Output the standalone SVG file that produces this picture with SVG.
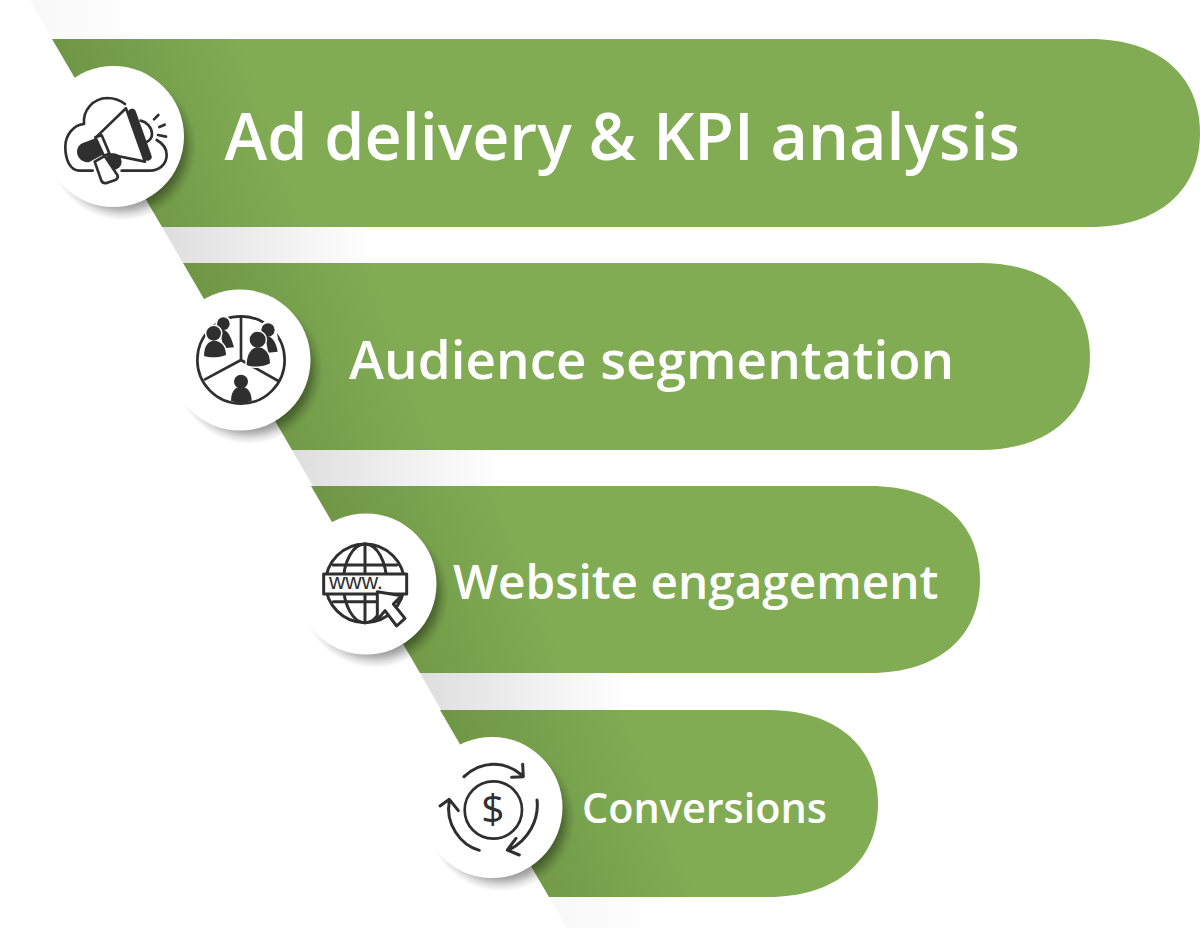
<svg xmlns="http://www.w3.org/2000/svg" width="1200" height="928" viewBox="0 0 1200 928">
<defs>
<linearGradient id="barFill" gradientUnits="userSpaceOnUse" x1="30" y1="150" x2="220" y2="80"><stop offset="0" stop-color="#6c9343"/><stop offset="1" stop-color="#81ac54"/></linearGradient>
<linearGradient id="bandFill" gradientUnits="userSpaceOnUse" x1="0" y1="0" x2="210" y2="0"><stop offset="0" stop-color="#dedede"/><stop offset="1" stop-color="#ffffff"/></linearGradient>
<linearGradient id="bandFaint" gradientUnits="userSpaceOnUse" x1="0" y1="0" x2="120" y2="0"><stop offset="0" stop-color="#f8f8f8"/><stop offset="1" stop-color="#ffffff"/></linearGradient>
<radialGradient id="shadeFill"><stop offset="0.72" stop-color="#000" stop-opacity="0.5"/><stop offset="0.84" stop-color="#000" stop-opacity="0.3"/><stop offset="0.92" stop-color="#000" stop-opacity="0.12"/><stop offset="1" stop-color="#000" stop-opacity="0"/></radialGradient>
<g id="frontL"><circle cx="131" cy="190" r="22"/><path d="M102,258C102,228 115,212 132,212C152,212 168,228 168,255C150,263 118,264 102,258Z"/></g>
<g id="frontR"><circle cx="263" cy="209" r="24"/><path d="M230,285C230,252 245,232 263,232C284,232 300,250 300,280C280,292 248,292 230,285Z"/></g>
</defs>
<style>
.bar{fill:url(#barFill)}
.band{fill:url(#bandFill)}
.shade{fill:url(#shadeFill)}
.disc{fill:#fff}
.label{font-family:"Open Sans","Noto Sans",sans-serif;font-weight:600;fill:#fff}
.ln{fill:none;stroke:#2f2f2f;stroke-linecap:round;stroke-linejoin:round}
.dk{fill:#2f2f2f}
.halo{fill:#fff;stroke:#fff;stroke-width:9}
.wh{fill:#fff;stroke:#2f2f2f;stroke-linejoin:round}
</style>
<g id="bands">
<path transform="translate(30,0)" fill="url(#bandFaint)" d="M0,0H120V39H22Z"/>
<path transform="translate(162,227)" class="band" d="M0,0H210V36H21Z"/>
<path transform="translate(292,450)" class="band" d="M0,0H210V36H21Z"/>
<path transform="translate(420,673)" class="band" d="M0,0H210V37H21Z"/>
<path transform="translate(549,897)" fill="url(#bandFaint)" d="M0,0H120V31H18Z"/>
</g>
<g id="node-ad-delivery">
<path transform="translate(52,39)" class="bar" d="M0,0H1038C1106,0 1148,36 1148,94C1148,152 1106,188 1038,188H110Z"/>
<circle class="shade" cx="122.500" cy="146.500" r="74"/>
<circle class="disc" cx="113.500" cy="136.500" r="70.500"/>
<g transform="translate(30,30) scale(0.33333)">
<path class="ln" stroke-width="8" d="M188,422H150C118,422 106,385 106,350C106,315 130,285 162,282C158,240 190,205 232,204C255,204 272,212 285,222M380,330C398,340 410,355 410,375C410,402 388,422 360,422H275"/>
<path class="ln" stroke-width="8" d="M332,272C350,276 366,292 366,312C366,322 360,330 352,335"/>
<path class="wh" stroke-width="8" d="M288,235L200,320L233,372L345,395Z"/>
<path class="ln" stroke-width="24" d="M306,248L353,380"/>
<path class="dk" d="M196,325L222,372L178,396C160,400 142,385 141,367C141,350 152,340 165,337Z"/>
<path class="wh" stroke-width="8" d="M196,322L215,316L238,370L222,378Z"/>
<circle class="dk" cx="250" cy="395" r="25"/>
<path class="wh" stroke-width="8" d="M194,395L224,378L262,435C266,442 262,446 258,449L232,458C224,461 218,460 214,452Z"/>
<path class="ln" stroke-width="8" d="M372,268L385,255M388,291L404,284M384,315L408,320"/>
</g>
<text class="label" x="224.500" y="160" font-size="64.600">Ad delivery &amp; KPI analysis</text>
</g>
<g id="node-audience">
<path transform="translate(183,263)" class="bar" d="M0,0H797C865,0 907,36 907,94C907,151 865,187 797,187H109Z"/>
<circle class="shade" cx="249" cy="370" r="74"/>
<circle class="disc" cx="240" cy="360" r="70.500"/>
<g transform="translate(170,270) scale(0.33333)">
<circle class="ln" stroke-width="8" cx="213" cy="270" r="131"/>
<path class="ln" stroke-width="8" d="M213,140V270M213,270L105,328M213,270L325,333"/>
<path class="halo" d="M140,165C140,135 182,135 182,165C182,180 196,215 192,232L140,235Z"/>
<path class="halo" d="M272,180C272,150 316,150 316,180C316,195 325,225 322,245L275,245Z"/>
<circle class="dk" cx="160" cy="161" r="19"/>
<path class="dk" d="M150,178C170,176 182,195 192,232L160,235Z"/>
<circle class="dk" cx="294" cy="180" r="20"/>
<path class="dk" d="M285,198C305,196 318,215 323,245L295,248Z"/>
<use href="#frontL" class="halo"/><use href="#frontL" class="dk"/>
<use href="#frontR" class="halo"/><use href="#frontR" class="dk"/>
<circle class="dk" cx="213" cy="335" r="21"/>
<path class="dk" d="M183,393C183,365 195,350 213,350C232,350 245,365 245,393C225,400 203,400 183,393Z"/>
</g>
<text class="label" x="349" y="379" font-size="53">Audience segmentation</text>
</g>
<g id="node-website">
<path transform="translate(311,486)" class="bar" d="M0,0H559C627,0 669,36 669,94C669,151 627,187 559,187H109Z"/>
<circle class="shade" cx="375" cy="594" r="74"/>
<circle class="disc" cx="366" cy="584" r="70.500"/>
<g transform="translate(290,450) scale(0.33333)">
<circle class="ln" stroke-width="9" cx="225" cy="400" r="118"/>
<ellipse class="ln" stroke-width="9" cx="225" cy="400" rx="65" ry="118"/>
<path class="ln" stroke-width="9" d="M225,282V518M130,345H320M130,455H320"/>
<rect class="wh" stroke-width="9" x="101" y="372" width="249" height="60"/>
<text x="117" y="416" font-family="Liberation Sans,Arial,sans-serif" font-size="68" fill="#2f2f2f">www.</text>
<path class="wh" stroke-width="9" d="M262,425L335,437L310,462L345,505L320,528L285,482L262,510Z"/>
</g>
<text class="label" x="453" y="599" font-size="47.700">Website engagement</text>
</g>
<g id="node-conversions">
<path transform="translate(440,710)" class="bar" d="M0,0H328C396,0 438,36 438,94C438,151 396,187 328,187H109Z"/>
<circle class="shade" cx="501" cy="817.500" r="74"/>
<circle class="disc" cx="492" cy="807.500" r="70.500"/>
<g transform="translate(410,670) scale(0.33333)">
<circle class="ln" stroke-width="8" cx="250" cy="420" r="86"/>
<text x="249" y="460" text-anchor="middle" font-family="Open Sans,sans-serif" font-size="122" fill="#2f2f2f">$</text>
<path class="ln" stroke-width="9" d="M162,320C215,270 285,272 335,315M338,283L340,320L305,322"/>
<path class="ln" stroke-width="9" d="M381,390C388,450 355,510 297,540M328,555L292,540L318,505"/>
<path class="ln" stroke-width="9" d="M208,541C150,525 105,460 118,392M90,408L118,388L145,422"/>
</g>
<text class="label" x="582" y="823" font-size="41.400">Conversions</text>
</g>
</svg>
